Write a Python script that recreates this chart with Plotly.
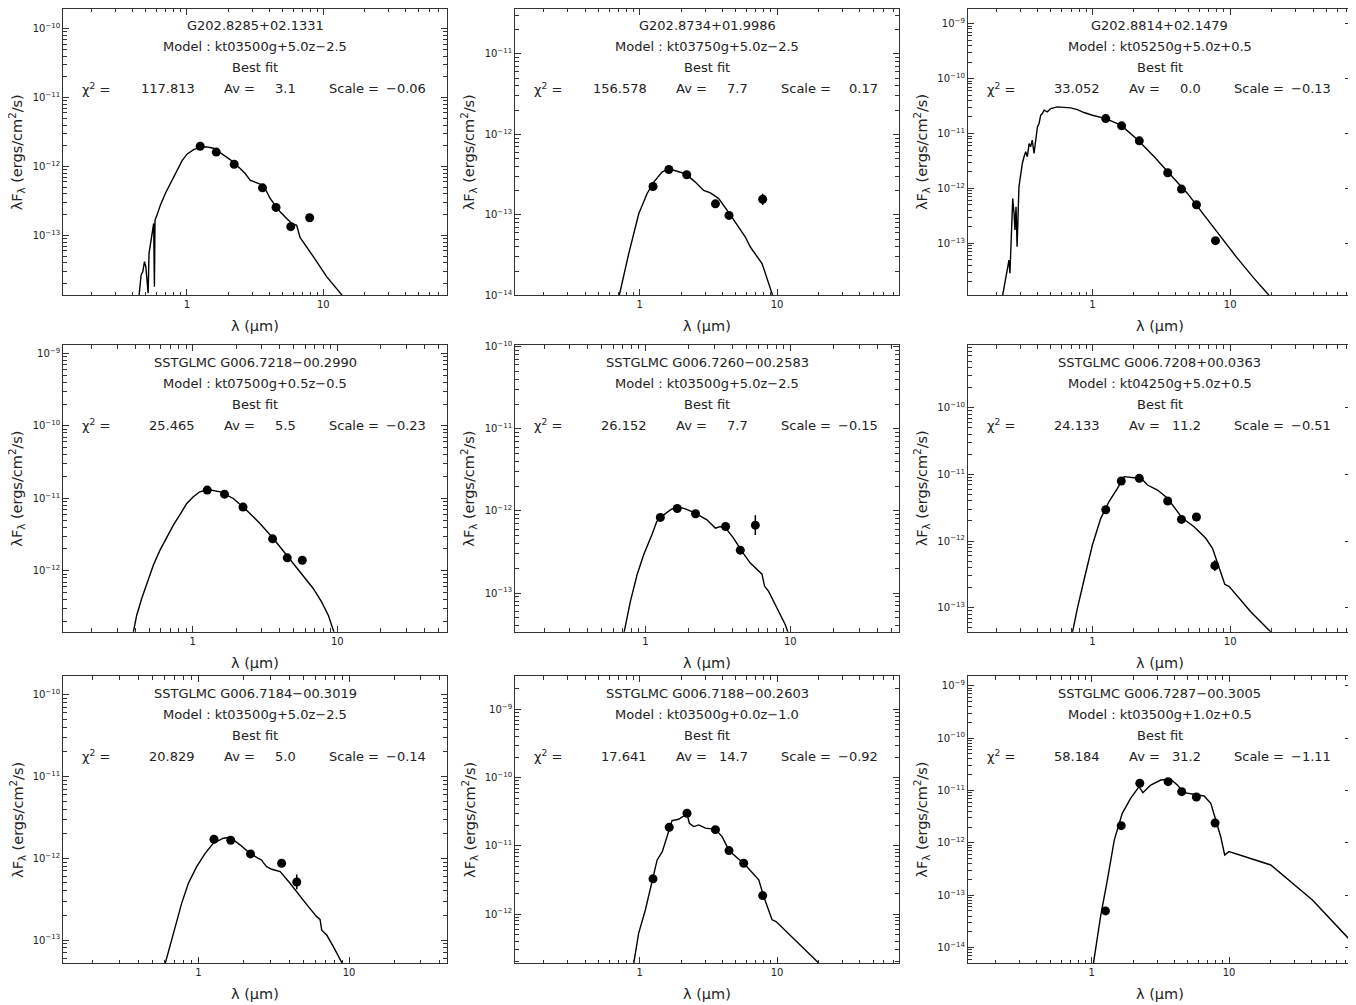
import plotly.graph_objects as go

# ---------------- data ----------------
# Panel 1
p1_name = "G202.8285+02.1331"; p1_model = "kt03500g+5.0z−2.5"
p1_chi2 = "117.813"; p1_av = "3.1"; p1_scale = "−0.06"
p1_lam = [1.25, 1.64, 2.22, 3.58, 4.5, 5.77, 7.94]
p1_flux = [1.97e-12, 1.62e-12, 1.08e-12, 4.9e-13, 2.55e-13, 1.34e-13, 1.8e-13]
p1_err = [0, 0, 0, 0, 0, 0, 0]
p1_mlam = [0.443, 0.451, 0.461, 0.474, 0.488, 0.499, 0.510, 0.519, 0.527, 0.539, 0.557, 0.570, 0.577,
           0.583, 0.603, 0.638, 0.694, 0.755, 0.845, 0.919, 1.0, 1.119, 1.253, 1.40, 1.567, 1.754, 2.075,
           2.455, 2.673, 2.905, 3.16, 3.64, 4.07, 4.82, 5.39, 5.87, 6.38, 6.75, 8.45, 10.58, 14.0]
p1_mflux = [1.2e-14, 2.01e-14, 2.66e-14, 2.97e-14, 4.15e-14, 3.51e-14, 2.01e-14, 1.45e-14, 5.48e-14,
            7.66e-14, 1.19e-13, 1.49e-13, 1.8e-14, 1.67e-13, 1.97e-13, 2.75e-13, 4.06e-13, 5.67e-13,
            8.85e-13, 1.21e-12, 1.51e-12, 1.76e-12, 1.91e-12, 1.93e-12, 1.84e-12, 1.58e-12, 1.26e-12,
            9.35e-13, 7.92e-13, 6.34e-13, 5.93e-13, 5.31e-13, 3.44e-13, 2.2e-13, 1.76e-13, 1.49e-13,
            1.4e-13, 9.35e-14, 4.91e-14, 2.52e-14, 1.29e-14]
p1_xr = [-0.907, 1.905]; p1_yr = [-13.87, -9.71]

# Panel 2
p2_name = "G202.8734+01.9986"; p2_model = "kt03750g+5.0z−2.5"
p2_chi2 = "156.578"; p2_av = "7.7"; p2_scale = "0.17"
p2_lam = [1.25, 1.63, 2.20, 3.56, 4.47, 7.86]
p2_flux = [2.25e-13, 3.66e-13, 3.15e-13, 1.37e-13, 9.84e-14, 1.56e-13]
p2_err = [0, 0, 0, 0, 0, 0.07]
p2_mlam = [0.70, 0.832, 0.984, 1.13, 1.264, 1.455, 1.626, 1.82, 2.15, 2.54, 2.92, 3.27, 3.76, 4.52,
           5.26, 5.88, 6.39, 7.15, 7.78, 9.2, 9.4]
p2_mflux = [9e-15, 3.3e-14, 1.03e-13, 1.83e-13, 2.55e-13, 3.4e-13, 3.74e-13, 3.5e-13, 3.24e-13,
            2.55e-13, 2.01e-13, 1.87e-13, 1.59e-13, 1.03e-13, 7.06e-14, 5.3e-14, 3.98e-14, 2.99e-14,
            2.48e-14, 1.05e-14, 8e-15]
p2_xr = [-0.906, 1.886]; p2_yr = [-14.0, -10.44]

# Panel 3
p3_name = "G202.8814+02.1479"; p3_model = "kt05250g+5.0z+0.5"
p3_chi2 = "33.052"; p3_av = "0.0"; p3_scale = "−0.13"
p3_lam = [1.25, 1.63, 2.19, 3.52, 4.43, 5.69, 7.82]
p3_flux = [1.87e-11, 1.38e-11, 7.36e-12, 1.93e-12, 9.73e-13, 5.05e-13, 1.12e-13]
p3_err = [0, 0, 0, 0, 0, 0, 0]
p3_mlam = [0.223, 0.235, 0.241, 0.248, 0.252, 0.258, 0.264, 0.270, 0.274, 0.279, 0.284, 0.293, 0.302,
           0.310, 0.319, 0.328, 0.337, 0.347, 0.356, 0.366, 0.377, 0.388, 0.395, 0.399, 0.410, 0.421,
           0.433, 0.446, 0.471, 0.498, 0.557, 0.622, 0.696, 0.778, 0.869, 1.0, 1.25, 1.61, 2.12, 2.81,
           3.71, 4.90, 6.47, 8.55, 11.3, 14.9, 19.2]
p3_mflux = [1.13e-14, 2.48e-14, 3.77e-14, 4.98e-14, 2.85e-14, 1.52e-13, 6.58e-13, 3.51e-13, 1.75e-13,
            4.65e-13, 8.69e-14, 1.07e-12, 1.87e-12, 2.85e-12, 3.77e-12, 4.65e-12, 3.77e-12, 6.58e-12,
            5.73e-12, 7.57e-12, 4.33e-12, 7.57e-12, 1.15e-11, 1.32e-11, 1.52e-11, 2.15e-11, 2.31e-11,
            2.66e-11, 2.48e-11, 2.85e-11, 3.05e-11, 2.97e-11, 2.93e-11, 2.73e-11, 2.41e-11, 2.15e-11,
            1.87e-11, 1.42e-11, 7.78e-12, 3.77e-12, 1.75e-12, 8.11e-13, 3.27e-13, 1.32e-13, 5.33e-14,
            2.31e-14, 1.13e-14]
p3_xr = [-0.903, 1.88]; p3_yr = [-13.945, -8.73]

# Panel 4
p4_name = "SSTGLMC G006.7218−00.2990"; p4_model = "kt07500g+0.5z−0.5"
p4_chi2 = "25.465"; p4_av = "5.5"; p4_scale = "−0.23"
p4_lam = [1.26, 1.66, 2.23, 3.57, 4.51, 5.73]
p4_flux = [1.30e-11, 1.14e-11, 7.56e-12, 2.76e-12, 1.51e-12, 1.40e-12]
p4_err = [0, 0, 0, 0, 0, 0]
p4_mlam = [0.385, 0.410, 0.444, 0.481, 0.535, 0.594, 0.661, 0.735, 0.839, 0.910, 1.01, 1.12, 1.28,
           1.55, 1.91, 2.36, 2.92, 3.61, 4.47, 5.52, 6.82, 7.79, 8.67, 9.64]
p4_mflux = [1.3e-13, 2.44e-13, 4.15e-13, 6.68e-13, 1.2e-12, 1.93e-12, 2.94e-12, 4.27e-12, 6.52e-12,
            8.5e-12, 1.05e-11, 1.23e-11, 1.32e-11, 1.23e-11, 9.95e-12, 6.87e-12, 4.5e-12, 2.79e-12,
            1.64e-12, 9.68e-13, 5.7e-13, 3.73e-13, 2.44e-13, 1.3e-13]
p4_xr = [-0.895, 1.757]; p4_yr = [-12.84, -8.885]

# Panel 5
p5_name = "SSTGLMC G006.7260−00.2583"; p5_model = "kt03500g+5.0z−2.5"
p5_chi2 = "26.152"; p5_av = "7.7"; p5_scale = "−0.15"
p5_lam = [1.27, 1.66, 2.22, 3.58, 4.52, 5.74]
p5_flux = [8.34e-13, 1.07e-12, 9.23e-13, 6.47e-13, 3.33e-13, 6.71e-13]
p5_err = [0, 0, 0, 0, 0.04, 0.12]
p5_mlam = [0.705, 0.789, 0.877, 0.974, 1.11, 1.20, 1.34, 1.49, 1.65, 1.89, 2.21, 2.53, 2.66, 2.88,
           3.04, 3.29, 3.66, 4.06, 4.64, 5.30, 5.89, 6.38, 6.65, 7.09, 8.09, 9.24, 9.84]
p5_mflux = [3.0e-14, 7.92e-14, 1.67e-13, 2.93e-13, 5.13e-13, 7.45e-13, 8.97e-13, 1.03e-12, 1.13e-12,
            1.06e-12, 9.4e-13, 8.34e-13, 7.8e-13, 6.78e-13, 6.18e-13, 6.47e-13, 5.9e-13, 4.67e-13,
            3.21e-13, 2.32e-13, 1.92e-13, 1.70e-13, 1.21e-13, 1.05e-13, 6.58e-14, 4.12e-14, 3.0e-14]
p5_xr = [-0.897, 1.748]; p5_yr = [-13.47, -9.98]

# Panel 6
p6_name = "SSTGLMC G006.7208+00.0363"; p6_model = "kt04250g+5.0z+0.5"
p6_chi2 = "24.133"; p6_av = "11.2"; p6_scale = "−0.51"
p6_lam = [1.25, 1.62, 2.19, 3.52, 4.43, 5.69, 7.74]
p6_flux = [2.95e-12, 7.94e-12, 8.71e-12, 3.98e-12, 2.11e-12, 2.29e-12, 4.27e-13]
p6_err = [0, 0, 0, 0, 0, 0, 0.08]
p6_mlam = [0.712, 0.778, 0.869, 1.0, 1.15, 1.32, 1.52, 1.70, 2.01, 2.24, 2.51, 2.97, 3.51, 4.03,
           4.51, 5.47, 6.65, 7.44, 8.32, 9.14, 9.84, 14.1, 20.0]
p6_mflux = [4e-14, 9.77e-14, 2.6e-13, 8.71e-13, 2.19e-12, 3.89e-12, 6.17e-12, 9.23e-12, 8.91e-12,
            8.91e-12, 6.92e-12, 5.82e-12, 4.37e-12, 2.92e-12, 2.19e-12, 1.64e-12, 1.10e-12, 7.76e-13,
            3.89e-13, 2.24e-13, 2.07e-13, 8.71e-14, 4.2e-14]
p6_xr = [-0.903, 1.88]; p6_yr = [-13.36, -9.06]

# Panel 7
p7_name = "SSTGLMC G006.7184−00.3019"; p7_model = "kt03500g+5.0z−2.5"
p7_chi2 = "20.829"; p7_av = "5.0"; p7_scale = "−0.14"
p7_lam = [1.27, 1.64, 2.22, 3.57, 4.50]
p7_flux = [1.71e-12, 1.66e-12, 1.13e-12, 8.68e-13, 5.13e-13]
p7_err = [0, 0, 0, 0, 0.09]
p7_mlam = [0.60, 0.682, 0.775, 0.859, 0.975, 1.11, 1.26, 1.47, 1.62, 1.89, 2.20, 2.50, 2.63, 2.70,
           2.84, 3.07, 3.49, 4.06, 4.73, 5.37, 6.10, 6.42, 6.59, 7.11, 7.87, 9.1]
p7_mflux = [5e-14, 1.21e-13, 2.81e-13, 4.94e-13, 7.91e-13, 1.15e-12, 1.53e-12, 1.76e-12, 1.81e-12,
            1.46e-12, 1.15e-12, 1.0e-12, 9.54e-13, 8.86e-13, 7.91e-13, 7.33e-13, 6.87e-13, 4.94e-13,
            3.4e-13, 2.56e-13, 1.93e-13, 1.79e-13, 1.32e-13, 1.15e-13, 8.28e-14, 5e-14]
p7_xr = [-0.896, 1.648]; p7_yr = [-13.285, -9.77]

# Panel 8
p8_name = "SSTGLMC G006.7188−00.2603"; p8_model = "kt03500g+0.0z−1.0"
p8_chi2 = "17.641"; p8_av = "14.7"; p8_scale = "−0.92"
p8_lam = [1.25, 1.64, 2.21, 3.56, 4.47, 5.72, 7.86]
p8_flux = [3.29e-12, 1.87e-11, 3.01e-11, 1.73e-11, 8.55e-12, 5.57e-12, 1.87e-12]
p8_err = [0, 0, 0, 0, 0, 0, 0]
p8_mlam = [0.90, 0.983, 1.10, 1.23, 1.34, 1.46, 1.63, 1.72, 1.92, 2.21, 2.30, 2.47, 2.69, 3.01,
           3.56, 3.98, 4.33, 4.70, 5.88, 7.36, 8.0, 9.20, 9.84, 20.1]
p8_mflux = [1.8e-13, 5.27e-13, 1.16e-12, 2.84e-12, 6.24e-12, 8.26e-12, 1.71e-11, 2.35e-11, 2.46e-11,
            2.94e-11, 2.15e-11, 1.92e-11, 2.03e-11, 1.82e-11, 1.75e-11, 1.37e-11, 9.77e-12, 7.81e-12,
            5.27e-12, 3.18e-12, 1.82e-12, 8.26e-13, 7.81e-13, 1.92e-13]
p8_xr = [-0.906, 1.886]; p8_yr = [-12.72, -8.51]

# Panel 9
p9_name = "SSTGLMC G006.7287−00.3005"; p9_model = "kt03500g+1.0z+0.5"
p9_chi2 = "58.184"; p9_av = "31.2"; p9_scale = "−1.11"
p9_lam = [1.26, 1.64, 2.24, 3.60, 4.52, 5.78, 7.91]
p9_flux = [5.01e-14, 2.13e-12, 1.37e-11, 1.47e-11, 9.48e-12, 7.5e-12, 2.39e-12]
p9_err = [0, 0, 0, 0, 0, 0, 0]
p9_mlam = [1.03, 1.16, 1.30, 1.46, 1.67, 1.92, 2.21, 2.36, 2.69, 3.18, 3.76, 4.20, 4.70, 5.56,
           6.58, 7.36, 8.0, 8.69, 9.29, 9.98, 20.1, 40.4, 79.1]
p9_mflux = [5e-15, 3.91e-14, 1.95e-13, 1.13e-12, 3.66e-12, 7.08e-12, 1.18e-11, 9.08e-12, 1.27e-11,
            1.58e-11, 1.63e-11, 1.27e-11, 9.08e-12, 8.57e-12, 7.84e-12, 5.68e-12, 2.73e-12, 1.31e-12,
            5.86e-13, 6.79e-13, 3.78e-13, 8.13e-14, 1.24e-14]
p9_xr = [-0.90, 1.89]; p9_yr = [-14.3, -8.815]

x_tick_vals = [1, 10]
x_tick_text = ["1", "10"]
x_title = "λ (μm)"
y_title = "λF<sub>λ</sub> (ergs/cm<sup>2</sup>/s)"

panels = []
for k in range(1, 10):
    g = globals()
    panels.append(dict(
        name=g[f"p{k}_name"], model=g[f"p{k}_model"], chi2=g[f"p{k}_chi2"], av=g[f"p{k}_av"],
        scale=g[f"p{k}_scale"], lam=g[f"p{k}_lam"], flux=g[f"p{k}_flux"], err=g[f"p{k}_err"],
        mlam=g[f"p{k}_mlam"], mflux=g[f"p{k}_mflux"], xr=g[f"p{k}_xr"], yr=g[f"p{k}_yr"]))

# ---------------- layout / styling ----------------
# the page body adds an 8 px margin, so the figure is 8 px smaller on each axis
OFF = 8
W, H = 1348, 997
FONT = "DejaVu Sans"
TXT = "#222222"
AXC = "#333333"
col_left = [63.3, 515.3, 968.0]
PW = 383.4
row_top = [8.8, 345.0, 676.0]
row_bot = [295.3, 631.7, 963.3]


def px(x):
    return (x - OFF) / W


def py(y):
    return 1 - (y - OFF) / H


x_minor = [m * 10 ** d for d in (-1, 0, 1) for m in range(2, 10)]

fig = go.Figure()
annotations = []
layout = {}

for i, p in enumerate(panels):
    r, c = divmod(i, 3)
    n = i + 1
    xa = "x" if n == 1 else f"x{n}"
    ya = "y" if n == 1 else f"y{n}"
    L = col_left[c]
    T = row_top[r]
    B = row_bot[r]

    fig.add_trace(go.Scatter(x=p["mlam"], y=p["mflux"], mode="lines",
                             line=dict(color="black", width=1.4),
                             xaxis=xa, yaxis=ya, showlegend=False, hoverinfo="skip"))
    hi = [f * (10 ** e - 1) for f, e in zip(p["flux"], p["err"])]
    lo = [f * (1 - 10 ** (-e)) for f, e in zip(p["flux"], p["err"])]
    fig.add_trace(go.Scatter(x=p["lam"], y=p["flux"], mode="markers",
                             marker=dict(size=9, color="black"),
                             error_y=dict(type="data", array=hi, arrayminus=lo, visible=True,
                                          color="black", thickness=1.5, width=0),
                             xaxis=xa, yaxis=ya, showlegend=False))

    d0 = int(p["yr"][0]) - 1
    d1 = int(p["yr"][1]) + 1
    y_major = [10.0 ** d for d in range(d0, d1 + 1)]
    y_text = [f"10<sup>{'−' if d < 0 else ''}{abs(d)}</sup>" for d in range(d0, d1 + 1)]
    y_minor = [m * 10.0 ** d for d in range(d0, d1 + 1) for m in range(2, 10)]

    common = dict(type="log", showline=True, linecolor=AXC, linewidth=1.3, mirror="ticks",
                  ticks="inside", ticklen=6, tickwidth=1, tickcolor=AXC, showgrid=False,
                  zeroline=False, tickmode="array", automargin=False,
                  tickfont=dict(family=FONT, size=10, color=TXT))
    xkey = "xaxis" if n == 1 else f"xaxis{n}"
    ykey = "yaxis" if n == 1 else f"yaxis{n}"
    layout[xkey] = dict(common, range=p["xr"], domain=[px(L), px(L + PW)], anchor=ya,
                        tickvals=x_tick_vals, ticktext=x_tick_text,
                        minor=dict(ticks="inside", ticklen=3.5, tickwidth=1, tickcolor=AXC,
                                   tickmode="array", tickvals=x_minor, showgrid=False))
    layout[ykey] = dict(common, range=p["yr"], domain=[py(B), py(T)], anchor=xa,
                        tickvals=y_major, ticktext=y_text,
                        minor=dict(ticks="inside", ticklen=3.5, tickwidth=1, tickcolor=AXC,
                                   tickmode="array", tickvals=y_minor, showgrid=False))

    f13 = dict(family=FONT, size=13, color=TXT)
    f14 = dict(family=FONT, size=14.5, color=TXT)

    def ann(text, x, y, xanchor="center", textangle=0, font=f13):
        annotations.append(dict(text=text, x=px(x), y=py(y), xref="paper", yref="paper",
                                xanchor=xanchor, yanchor="middle", showarrow=False,
                                font=font, textangle=textangle))

    cx = L + PW / 2
    ann(p["name"], cx, T + 17)
    ann("Model : " + p["model"], cx, T + 38)
    ann("Best fit", cx, T + 59)
    ann("χ<sup>2</sup> =", L + 17, T + 80, "left")
    ann(p["chi2"], L + 134, T + 80, "right")
    ann("Av =", L + 159, T + 80, "left")
    ann(p["av"], L + 235, T + 80, "right")
    ann("Scale =", L + 264, T + 80, "left")
    ann(p["scale"], L + 365, T + 80, "right")
    ann(x_title, cx, B + 31, font=f14)
    ann(y_title, L - 46, (T + B) / 2, textangle=-90, font=f14)

fig.update_layout(width=W, height=H, margin=dict(l=0, r=0, t=0, b=0), template="none",
                  paper_bgcolor="white", plot_bgcolor="white", showlegend=False,
                  annotations=annotations, **layout)

fig.write_html("out.html")
